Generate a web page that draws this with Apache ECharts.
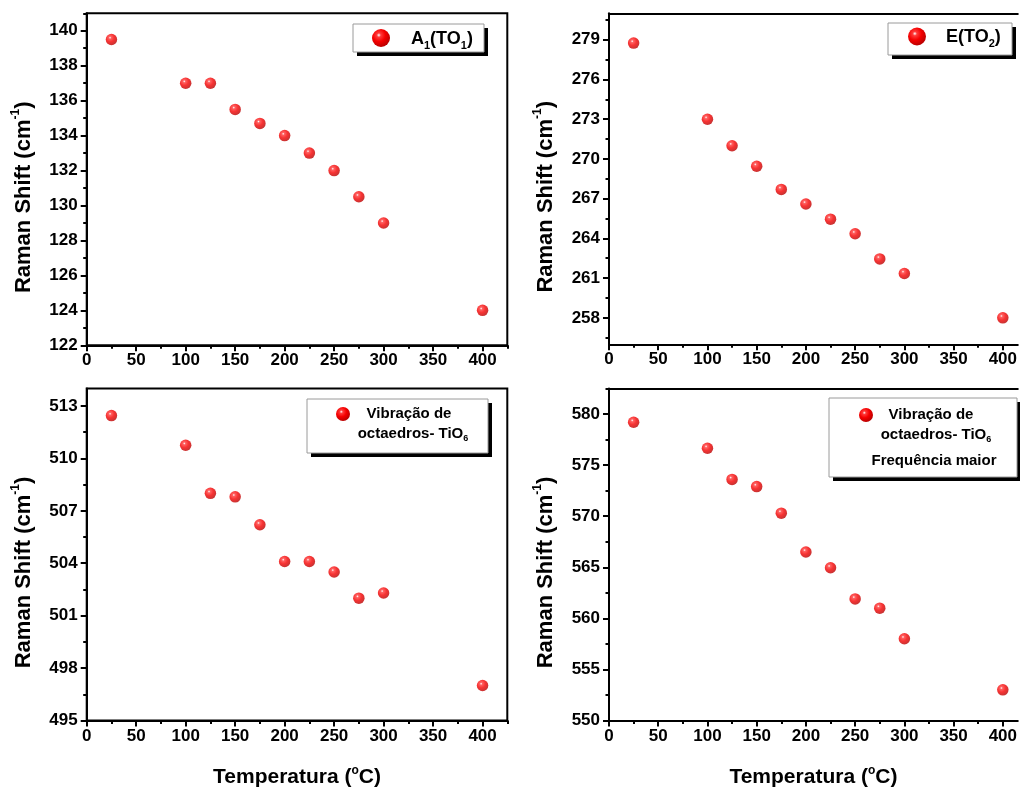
<!DOCTYPE html>
<html>
<head>
<meta charset="utf-8">
<script src="https://cdn.jsdelivr.net/npm/echarts@6/dist/echarts.min.js"></script>
<style>
  html, body { margin: 0; padding: 0; background: #fff; }
  #chart { width: 1020px; height: 789px; }
</style>
</head>
<body>
<div id="chart"></div>
<script>
// Temperature steps (°C) shared by all four panels
const temperature = [25, 100, 125, 150, 175, 200, 225, 250, 275, 300, 400];

// Raman shift (cm^-1) of each mode versus temperature
const shiftA1TO1 = [139.5, 137.0, 137.0, 135.5, 134.7, 134.0, 133.0, 132.0, 130.5, 129.0, 124.0];
const shiftETO2 = [278.75, 273.0, 271.0, 269.45, 267.7, 266.6, 265.45, 264.35, 262.45, 261.35, 258.0];
const shiftTiO6 = [512.45, 510.75, 508.0, 507.8, 506.2, 504.1, 504.1, 503.5, 502.0, 502.3, 497.0];
const shiftTiO6High = [579.2, 576.65, 573.6, 572.9, 570.3, 566.5, 564.95, 561.9, 561.0, 558.0, 553.0];

// Tick values
const xTicks = [0, 50, 100, 150, 200, 250, 300, 350, 400];
const xMinorTicks = [25, 75, 125, 175, 225, 275, 325, 375, 425];
const y1Ticks = [122, 124, 126, 128, 130, 132, 134, 136, 138, 140];
const y1MinorTicks = [123, 125, 127, 129, 131, 133, 135, 137, 139, 141];
const y2Ticks = [258, 261, 264, 267, 270, 273, 276, 279];
const y2MinorTicks = [256.5, 259.5, 262.5, 265.5, 268.5, 271.5, 274.5, 277.5, 280.5];
const y3Ticks = [495, 498, 501, 504, 507, 510, 513];
const y3MinorTicks = [496.5, 499.5, 502.5, 505.5, 508.5, 511.5];
const y4Ticks = [550, 555, 560, 565, 570, 575, 580];
const y4MinorTicks = [552.5, 557.5, 562.5, 567.5, 572.5, 577.5, 582.5];

const FONT = '"Liberation Sans", Arial, Helvetica, sans-serif';
const BLACK = '#000';

// Glossy red sphere used for the points and legend markers
const ballFill = {
  type: 'radial', x: 0.38, y: 0.34, r: 0.72,
  colorStops: [
    { offset: 0, color: '#ffffff' },
    { offset: 0.16, color: '#ff3a3a' },
    { offset: 0.5, color: '#f50000' },
    { offset: 1, color: '#b00000' }
  ]
};

// Panel frames (pixel layout); the right-hand panels run past the page edge
const panels = [
  { left: 86.7, top: 13.3, width: 420.6, height: 332, xmax: 425, closed: true,
    ymin: 122, ymax: 141, ticks: y1Ticks, minor: y1MinorTicks, data: shiftA1TO1, name: 'A1(TO1)', xTitle: false },
  { left: 609, top: 13.3, width: 411, height: 331, xmax: 415.2, closed: false,
    ymin: 256, ymax: 281, ticks: y2Ticks, minor: y2MinorTicks, data: shiftETO2, name: 'E(TO2)', xTitle: false },
  { left: 86.7, top: 388.5, width: 420.6, height: 332.3, xmax: 425, closed: true,
    ymin: 495, ymax: 514, ticks: y3Ticks, minor: y3MinorTicks, data: shiftTiO6, name: 'Vibração de octaedros- TiO6', xTitle: true },
  { left: 609, top: 388.5, width: 411, height: 332.3, xmax: 415.2, closed: false,
    ymin: 550, ymax: 582.5, ticks: y4Ticks, minor: y4MinorTicks, data: shiftTiO6High, name: 'Vibração de octaedros- TiO6 Frequência maior', xTitle: true }
];

const labelStyle = { color: BLACK, fontFamily: FONT, fontWeight: 'bold', fontSize: 17 };
const frameLine = { color: BLACK, width: 2 };

const grid = [], xAxis = [], yAxis = [], series = [];
panels.forEach((p, i) => {
  grid.push({
    left: p.left, top: p.top, width: p.width, height: p.height,
    show: p.closed, borderColor: BLACK, borderWidth: 2, backgroundColor: 'transparent'
  });
  const xi = xAxis.length, yi = yAxis.length;
  // main x axis
  xAxis.push({
    type: 'value', gridIndex: i, position: 'bottom', min: 0, max: p.xmax,
    axisLine: { show: true, onZero: false, lineStyle: frameLine },
    axisTick: { show: true, inside: false, length: 6, customValues: xTicks, lineStyle: frameLine },
    axisLabel: Object.assign({ customValues: xTicks, margin: 7 }, labelStyle),
    splitLine: { show: false },
    name: p.xTitle ? '{t|Temperatura (}{sup|o}{t|C)}' : '',
    nameLocation: 'middle', nameGap: 44,
    nameTextStyle: {
      color: BLACK,
      rich: {
        t: { fontFamily: FONT, fontWeight: 'bold', fontSize: 21, lineHeight: 26, color: BLACK },
        sup: { fontFamily: FONT, fontWeight: 'bold', fontSize: 12, lineHeight: 12, color: BLACK, verticalAlign: 'top' }
      }
    }
  });
  // minor x ticks
  xAxis.push({
    type: 'value', gridIndex: i, position: 'bottom', min: 0, max: p.xmax,
    axisLine: { show: false, onZero: false },
    axisTick: { show: true, inside: false, length: 3.5,
      customValues: xMinorTicks.filter(v => v <= p.xmax), lineStyle: frameLine },
    axisLabel: { show: false },
    splitLine: { show: false }
  });
  if (!p.closed) {
    // top edge of the frame
    xAxis.push({
      type: 'value', gridIndex: i, position: 'top', min: 0, max: p.xmax,
      axisLine: { show: true, onZero: false, lineStyle: frameLine },
      axisTick: { show: false }, axisLabel: { show: false }, splitLine: { show: false }
    });
  }
  // main y axis
  yAxis.push({
    type: 'value', gridIndex: i, position: 'left', min: p.ymin, max: p.ymax,
    axisLine: { show: true, onZero: false, lineStyle: frameLine },
    axisTick: { show: true, inside: false, length: 6, customValues: p.ticks, lineStyle: frameLine },
    axisLabel: Object.assign({ customValues: p.ticks, margin: 9 }, labelStyle),
    splitLine: { show: false },
    name: '{t|Raman Shift (cm}{sup|-1}{t|)}',
    nameLocation: 'middle', nameGap: 49, nameRotate: 90,
    nameTextStyle: {
      color: BLACK,
      padding: [0, 36, 0, 0],
      rich: {
        t: { fontFamily: FONT, fontWeight: 'bold', fontSize: 22, lineHeight: 28, color: BLACK },
        sup: { fontFamily: FONT, fontWeight: 'bold', fontSize: 12, lineHeight: 12, color: BLACK, verticalAlign: 'top' }
      }
    }
  });
  // minor y ticks
  yAxis.push({
    type: 'value', gridIndex: i, position: 'left', min: p.ymin, max: p.ymax,
    axisLine: { show: false, onZero: false },
    axisTick: { show: true, inside: false, length: 3.5, customValues: p.minor, lineStyle: frameLine },
    axisLabel: { show: false },
    splitLine: { show: false }
  });
  series.push({
    type: 'scatter', name: p.name,
    xAxisIndex: xi, yAxisIndex: yi,
    symbol: 'circle', symbolSize: 11.5,
    itemStyle: { color: ballFill },
    data: temperature.map((t, k) => [t, p.data[k]])
  });
});

// Legend boxes: shadowed frame, sphere marker and label lines
const legendRich = {
  m: { fontFamily: FONT, fontWeight: 'bold', fontSize: 18, lineHeight: 24, fill: BLACK },
  s: { fontFamily: FONT, fontWeight: 'bold', fontSize: 11, lineHeight: 11, fill: BLACK, verticalAlign: 'bottom' },
  n: { fontFamily: FONT, fontWeight: 'bold', fontSize: 15, lineHeight: 19, fill: BLACK },
  ns: { fontFamily: FONT, fontWeight: 'bold', fontSize: 9, lineHeight: 9, fill: BLACK, verticalAlign: 'bottom' }
};
function legendBox(box, ball, lines) {
  const els = [
    { type: 'rect', shape: { x: box.x + 4, y: box.y + 4, width: box.w, height: box.h },
      style: { fill: BLACK }, z: 10 },
    { type: 'rect', shape: { x: box.x, y: box.y, width: box.w, height: box.h },
      style: { fill: '#fff', stroke: '#9a9a9a', lineWidth: 1 }, z: 11 },
    { type: 'circle', shape: { cx: ball.x, cy: ball.y, r: ball.r },
      style: { fill: ballFill }, z: 12 }
  ];
  lines.forEach(l => {
    els.push({
      type: 'text', x: l.x, y: l.y, z: 12,
      style: { text: l.text, rich: legendRich, textAlign: l.align || 'left', textVerticalAlign: 'middle',
               fontFamily: FONT, fontWeight: 'bold', fontSize: 15, fill: BLACK }
    });
  });
  return els;
}

const graphic = [].concat(
  legendBox({ x: 353, y: 24, w: 131, h: 28 }, { x: 381, y: 38, r: 9 },
    [{ text: '{m|A}{s|1}{m|(TO}{s|1}{m|)}', x: 411, y: 39 }]),
  legendBox({ x: 888, y: 23, w: 124, h: 32 }, { x: 917, y: 36.5, r: 9 },
    [{ text: '{m|E(TO}{s|2}{m|)}', x: 946, y: 37.5 }]),
  legendBox({ x: 307, y: 399, w: 181, h: 54 }, { x: 343, y: 414, r: 7 },
    [{ text: '{n|Vibração de}', x: 409, y: 414, align: 'center' },
     { text: '{n|octaedros- TiO}{ns|6}', x: 413, y: 434, align: 'center' }]),
  legendBox({ x: 829, y: 398, w: 188, h: 79 }, { x: 866, y: 415, r: 7 },
    [{ text: '{n|Vibração de}', x: 931, y: 415, align: 'center' },
     { text: '{n|octaedros- TiO}{ns|6}', x: 936, y: 435, align: 'center' },
     { text: '{n|Frequência maior}', x: 934, y: 460.5, align: 'center' }])
);

const chart = echarts.init(document.getElementById('chart'), null, { renderer: 'canvas' });
chart.setOption({
  backgroundColor: '#fff',
  animation: false,
  grid, xAxis, yAxis, series,
  graphic
});
</script>
</body>
</html>
